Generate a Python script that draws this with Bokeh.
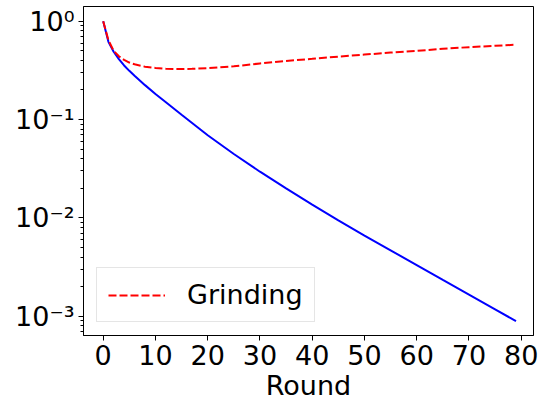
from bokeh.plotting import figure
from bokeh.models import Range1d, FixedTicker, Legend
from bokeh.embed import file_html
from bokeh.resources import INLINE

# data
rounds_blue = [0, 1, 2, 3, 4, 5, 6, 8, 10, 12, 15, 20, 25, 30, 35, 40, 45, 50, 55, 60, 65, 70, 75, 79]
blue_vals = [1.0, 0.617, 0.49, 0.412, 0.355, 0.313, 0.279, 0.224, 0.182, 0.150, 0.112, 0.0692,
             0.0447, 0.0295, 0.01995, 0.01365, 0.00944, 0.00661, 0.00468, 0.00331, 0.00234,
             0.00166, 0.001175, 0.000891]

rounds_red = [0, 1, 2, 3, 4, 5, 6, 8, 10, 12, 14, 17, 20, 25, 30, 35, 40, 45, 50, 55, 60, 65, 70, 75, 79]
red_vals = [1.0, 0.64, 0.50, 0.44, 0.405, 0.38, 0.365, 0.345, 0.335, 0.329, 0.327, 0.328, 0.333,
            0.348, 0.372, 0.395, 0.415, 0.437, 0.458, 0.48, 0.50, 0.525, 0.545, 0.563, 0.577]

x_ticks = [0, 10, 20, 30, 40, 50, 60, 70, 80]
y_major = [1e-3, 1e-2, 1e-1, 1e0]
y_labels = {1e-3: "10⁻³", 1e-2: "10⁻²", 1e-1: "10⁻¹", 1e0: "10⁰"}
series_label = "Grinding"
x_title = "Round"

FONT = "DejaVu Sans"

p = figure(width=538, height=408, y_axis_type="log", output_backend="svg",
           toolbar_location=None,
           x_range=Range1d(-3.77, 82.35), y_range=Range1d(10 ** -3.196, 10 ** 0.15),
           min_border_left=83, min_border_right=5, min_border_top=6, min_border_bottom=73)

p.line(rounds_blue, blue_vals, line_color="#0000ff", line_width=2)
r_red = p.line(rounds_red, red_vals, line_color="#ff0000", line_width=2, line_dash="8 3")

p.xgrid.grid_line_color = None
p.ygrid.grid_line_color = None
p.outline_line_color = "black"
p.outline_line_width = 1
p.background_fill_color = "white"
p.border_fill_color = "white"

minor = [m * 10.0 ** e for e in range(-4, 1) for m in range(2, 10)]
p.yaxis.ticker = FixedTicker(ticks=y_major, minor_ticks=minor)
p.yaxis.major_label_overrides = y_labels
p.xaxis.ticker = FixedTicker(ticks=x_ticks, minor_ticks=[])

for ax in (p.xaxis[0], p.yaxis[0]):
    ax.major_label_text_font = FONT
    ax.major_label_text_font_size = "27px"
    ax.major_label_text_color = "black"
    ax.axis_line_color = "black"
    ax.major_tick_line_color = "black"
    ax.minor_tick_line_color = "black"
    ax.major_tick_out = 5
    ax.major_tick_in = 0
    ax.minor_tick_out = 3
    ax.minor_tick_in = 0
    ax.major_label_standoff = 4

p.xaxis.axis_label = x_title
p.xaxis.axis_label_text_font = FONT
p.xaxis.axis_label_text_font_size = "27px"
p.xaxis.axis_label_text_font_style = "normal"
p.xaxis.axis_label_text_color = "black"
p.xaxis.axis_label_standoff = 2

legend = Legend(items=[(series_label, [r_red])], location="bottom_left")
legend.label_text_font = FONT
legend.label_text_font_size = "27px"
legend.label_text_color = "black"
legend.glyph_width = 57
legend.label_standoff = 22
legend.padding = 11
legend.margin = 13
legend.border_line_color = "#cccccc"
legend.border_line_width = 1
legend.background_fill_alpha = 0.8
p.add_layout(legend)

open("out.html", "w").write(file_html(p, INLINE))
